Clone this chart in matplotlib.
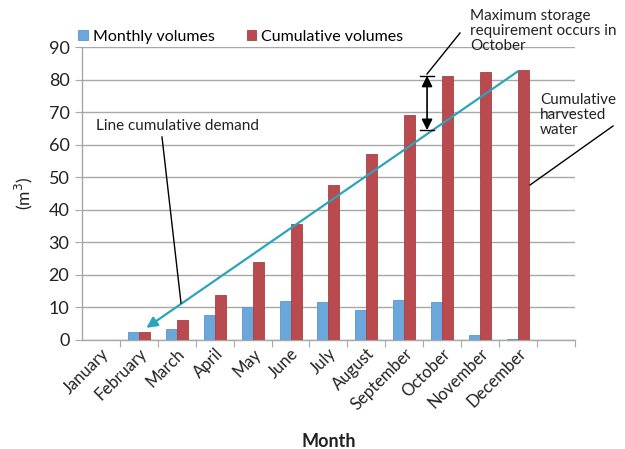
import matplotlib
matplotlib.use("Agg")
import matplotlib.pyplot as plt
import numpy as np

months = ["January", "February", "March", "April", "May", "June", "July",
          "August", "September", "October", "November", "December"]
monthly = [0, 2.3, 3.3, 7.7, 10.0, 12.0, 11.5, 9.3, 12.3, 11.8, 1.5, 0.4]
cumulative = [0, 2.5, 6.0, 13.8, 24.0, 35.7, 47.5, 57.0, 69.0, 81.0, 82.5, 83.0]
demand_x = [1.2, 11.0]
demand_y = [3.7, 82.6]
yticks = list(range(0, 91, 10))

plt.rcParams['font.family'] = ['Lato', 'DejaVu Sans']
blue = '#6CA7DC'
red = '#B94A4F'
teal = '#2AA5BC'
grid = '#A8A8A8'
tc = '#222222'

fig = plt.figure(figsize=(6.25, 4.49), dpi=100)
ax = fig.add_axes([0.131, 0.243, 0.789, 0.652])

x = np.arange(len(months))
w = 0.29
ax.bar(x - w / 2, monthly, w, color=blue, edgecolor='#5B95C9', linewidth=0.6,
       label='Monthly volumes', zorder=3)
ax.bar(x + w / 2, cumulative, w, color=red, edgecolor='#A8403F', linewidth=0.6,
       label='Cumulative volumes', zorder=3)

ax.set_xlim(-0.5, 12.5)
ax.set_ylim(0, 90)
ax.set_yticks(yticks)
ax.yaxis.grid(True, color=grid, linewidth=1.0, zorder=0)
ax.set_axisbelow(True)
for s in ['top', 'right']:
    ax.spines[s].set_visible(False)
for s in ['left', 'bottom']:
    ax.spines[s].set_color(grid)
    ax.spines[s].set_linewidth(1.0)

ax.set_xticks(np.arange(0.5, 13, 1.0))
ax.set_xticklabels([])
ax.tick_params(axis='x', which='major', length=5, color=grid)
ax.set_xticks(x, minor=True)
ax.set_xticklabels(months, minor=True, rotation=45, ha='right',
                   rotation_mode='anchor', fontsize=12, color=tc)
ax.tick_params(axis='x', which='minor', length=0, pad=4)
ax.tick_params(axis='y', length=5, color=grid, labelsize=13,
               labelcolor=tc, pad=4)

ax.set_ylabel('(m$^3$)', fontsize=12.5, color=tc, labelpad=10)
ax.set_xlabel('Month', fontsize=13, fontweight='bold', color=tc, labelpad=14)

# demand line with arrow at start
ax.annotate('', xy=(demand_x[0], demand_y[0]), xytext=(demand_x[1], demand_y[1]),
            arrowprops=dict(arrowstyle='-|>', color=teal, lw=1.6,
                            mutation_scale=16, shrinkA=0, shrinkB=0), zorder=5)

# legend
ax.legend(loc='lower left', bbox_to_anchor=(-0.02, 0.99), ncol=2, frameon=False,
          fontsize=11.5, handlelength=0.6, handleheight=0.6, handletextpad=0.3,
          columnspacing=2.0, borderaxespad=0)

# Max storage double arrow
ax.annotate('', xy=(8.6, 81.2), xytext=(8.6, 64.5),
            arrowprops=dict(arrowstyle='<|-|>', color='black', lw=1.2,
                            mutation_scale=16, shrinkA=0, shrinkB=0), zorder=6)
ax.plot([8.42, 8.78], [81.2, 81.2], color='black', lw=1.0, zorder=6, clip_on=False)
ax.plot([8.42, 8.78], [64.5, 64.5], color='black', lw=1.0, zorder=6, clip_on=False)

# annotation texts (figure coords)
fig.text(470 / 625, 1 - 9 / 449, 'Maximum storage\nrequirement occurs in\nOctober',
         fontsize=11, va='top', ha='left', linespacing=1.1, color=tc)
fig.add_artist(plt.Line2D([427 / 625, 460 / 625], [1 - 74 / 449, 1 - 33 / 449],
                          color='black', lw=1.0))
fig.text(540 / 625, 1 - 93 / 449, 'Cumulative\nharvested\nwater',
         fontsize=11, va='top', ha='left', linespacing=1.1, color=tc)
fig.add_artist(plt.Line2D([613 / 625, 530 / 625], [1 - 126 / 449, 1 - 185 / 449],
                          color='black', lw=1.0))
fig.text(96 / 625, 1 - 126 / 449, 'Line cumulative demand',
         fontsize=11, va='center', ha='left', color=tc)
fig.add_artist(plt.Line2D([162 / 625, 181 / 625], [1 - 137 / 449, 1 - 303 / 449],
                          color='black', lw=1.0))

fig.savefig('out.png', dpi=100, facecolor='white')
